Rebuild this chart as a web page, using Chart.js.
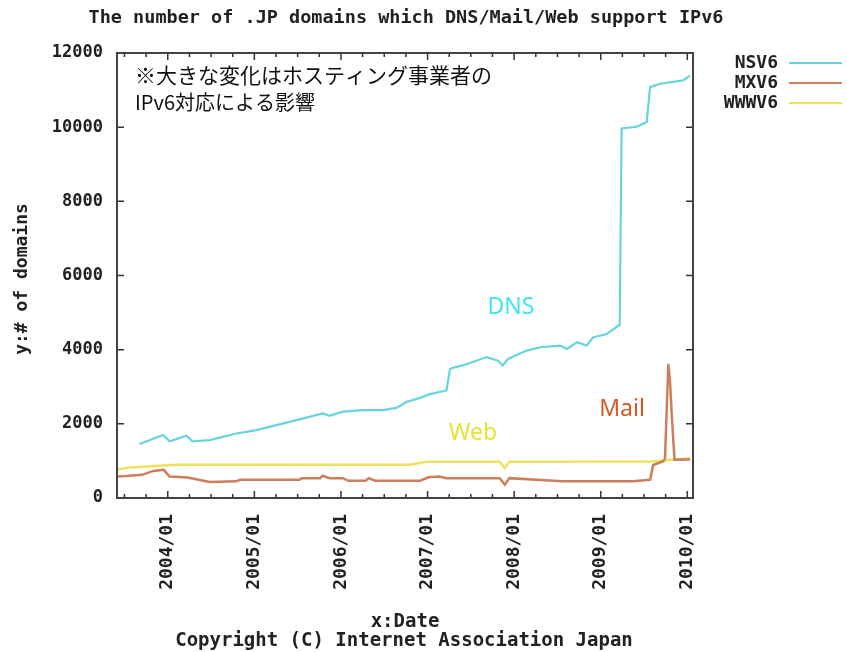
<!DOCTYPE html>
<html>
<head>
<meta charset="utf-8">
<script src="https://cdn.jsdelivr.net/npm/chart.js@4.4.0/dist/chart.umd.min.js"></script>
<style>
  html, body { margin: 0; padding: 0; background: #fff; }
  #wrap { width: 847px; height: 652px; }
</style>
</head>
<body>
<div id="wrap"><canvas id="chart" width="847" height="652"></canvas></div>
<script>
// Series data (dates are sample points, values = number of domains)
const seriesLabels = ['NSV6', 'MXV6', 'WWWV6'];

const dnsDates = ['2003-09-04', '2003-12-12', '2004-01-09', '2004-03-20', '2004-04-15', '2004-06-26',
  '2004-10-17', '2005-01-10', '2005-04-04', '2005-06-28', '2005-10-16', '2005-11-14', '2006-01-09',
  '2006-04-03', '2006-06-26', '2006-08-23', '2006-10-04', '2006-12-01', '2007-01-11', '2007-03-22',
  '2007-04-05', '2007-04-12', '2007-05-30', '2007-09-07', '2007-10-25', '2007-11-14', '2007-12-06',
  '2008-02-23', '2008-04-20', '2008-07-14', '2008-08-11', '2008-09-23', '2008-11-03', '2008-11-29',
  '2009-01-26', '2009-03-16', '2009-03-22', '2009-03-30', '2009-06-02', '2009-07-14', '2009-07-28',
  '2009-09-08', '2009-12-14', '2010-01-13'];
const dnsValues = [1455, 1700, 1530, 1680, 1530, 1560,
  1740, 1830, 1965, 2100, 2280, 2215, 2330,
  2370, 2370, 2430, 2590, 2700, 2800, 2900,
  3450, 3500, 3575, 3800, 3700, 3575, 3750,
  3975, 4065, 4110, 4020, 4200, 4110, 4330,
  4420, 4645, 4660, 9965, 10010, 10140, 11080,
  11170, 11260, 11390];

const mailDates = ['2003-06-01', '2003-07-10', '2003-09-15', '2003-11-01', '2003-12-15', '2004-01-09',
  '2004-03-25', '2004-06-26', '2004-10-17', '2004-11-01', '2005-07-10', '2005-07-20', '2005-10-05',
  '2005-10-16', '2005-11-14', '2006-01-09', '2006-02-01', '2006-04-15', '2006-04-28', '2006-05-25',
  '2006-12-01', '2007-01-05', '2007-02-20', '2007-03-22', '2007-11-01', '2007-11-23', '2007-12-12',
  '2008-07-26', '2009-05-18', '2009-07-28', '2009-08-10', '2009-09-22', '2009-09-29', '2009-10-13',
  '2009-10-20', '2009-10-27', '2009-11-08', '2010-01-13'];
const mailValues = [580, 590, 625, 730, 760, 580,
  555, 430, 450, 490, 490, 535, 535,
  600, 535, 535, 465, 465, 535, 465,
  465, 560, 580, 535, 535, 360, 535,
  450, 450, 490, 890, 990, 1070, 3620,
  3150, 2300, 1030, 1040];

const webDates = ['2003-06-01', '2003-07-23', '2004-02-06', '2006-10-18', '2006-12-28', '2007-11-01',
  '2007-11-23', '2007-12-12', '2009-08-01', '2010-01-13'];
const webValues = [760, 820, 895, 895, 980, 980, 805, 980, 985, 1070];

// axis range and ticks
const xStart = '2003-06-01';
const xEnd = '2010-01-25';
const yTicks = [0, 2000, 4000, 6000, 8000, 10000, 12000];

function toYear(d) {
  const t = new Date(d + 'T00:00:00Z');
  const y = t.getUTCFullYear();
  const a = Date.UTC(y, 0, 1), b = Date.UTC(y + 1, 0, 1);
  return y + (t - a) / (b - a);
}
function points(dates, values) {
  return dates.map((d, i) => ({ x: toYear(d), y: values[i] }));
}

const MONO = '"DejaVu Sans Mono", "Liberation Mono", monospace';
const colors = ['#66d4dc', '#cc7f5c', '#efe25a'];

// frame, inward ticks, title, legend and annotations
const decorations = {
  id: 'decorations',
  afterDraw(chart) {
    const ctx = chart.ctx;
    const a = chart.chartArea;
    const xs = chart.scales.x, ys = chart.scales.y;
    ctx.save();
    ctx.strokeStyle = '#333';
    ctx.lineWidth = 1.5;
    xs.ticks.forEach(t => {
      const px = xs.getPixelForValue(t.value);
      const len = Math.abs(t.value - Math.round(t.value)) < 1e-6 ? 7 : 4;
      ctx.beginPath();
      ctx.moveTo(px, a.bottom); ctx.lineTo(px, a.bottom - len);
      ctx.moveTo(px, a.top); ctx.lineTo(px, a.top + len);
      ctx.stroke();
    });
    ys.ticks.forEach(t => {
      const py = ys.getPixelForValue(t.value);
      ctx.beginPath();
      ctx.moveTo(a.left, py); ctx.lineTo(a.left + 7, py);
      ctx.moveTo(a.right, py); ctx.lineTo(a.right - 7, py);
      ctx.stroke();
    });
    ctx.lineWidth = 2;
    ctx.strokeStyle = '#444';
    ctx.strokeRect(a.left, a.top, a.right - a.left, a.bottom - a.top);

    // title
    ctx.fillStyle = '#222';
    ctx.textBaseline = 'middle';
    ctx.textAlign = 'center';
    ctx.font = 'bold 18.5px ' + MONO;
    ctx.fillText('The number of .JP domains which DNS/Mail/Web support IPv6', 406, 18);

    // axis titles
    ctx.font = 'bold 19px ' + MONO;
    ctx.fillText('x:Date', 405, 622);
    ctx.fillText('Copyright (C) Internet Association Japan', 404, 641);
    ctx.save();
    ctx.translate(22, 279);
    ctx.rotate(-Math.PI / 2);
    ctx.font = 'bold 18px ' + MONO;
    ctx.fillText('y:# of domains', 0, 0);
    ctx.restore();

    // legend
    ctx.textAlign = 'right';
    ctx.font = 'bold 18px ' + MONO;
    chart.data.datasets.forEach((ds, i) => {
      const y = 63 + i * 20;
      ctx.fillStyle = '#222';
      ctx.fillText(ds.label, 778, y);
      ctx.strokeStyle = ds.borderColor;
      ctx.lineWidth = 2;
      ctx.beginPath();
      ctx.moveTo(789, y); ctx.lineTo(842, y);
      ctx.stroke();
    });

    // note
    ctx.textAlign = 'left';
    ctx.fillStyle = '#111';
    ctx.font = '21px "Noto Sans CJK JP"';
    ctx.fillText('※大きな変化はホスティング事業者の', 135, 75);
    ctx.font = '20px "Noto Sans CJK JP"';
    ctx.fillText('IPv6対応による影響', 135, 102);

    // series names
    ctx.textAlign = 'center';
    ctx.font = '23px "Noto Sans"';
    ctx.fillStyle = '#3fe6ee';
    ctx.fillText('DNS', 511, 307);
    ctx.fillStyle = '#ebe036';
    ctx.fillText('Web', 473, 433);
    ctx.fillStyle = '#d55a22';
    ctx.fillText('Mail', 622, 409);
    ctx.restore();
  }
};

new Chart(document.getElementById('chart'), {
  type: 'line',
  data: {
    datasets: [
      { label: seriesLabels[0], data: points(dnsDates, dnsValues), borderColor: colors[0], borderWidth: 2.2 },
      { label: seriesLabels[1], data: points(mailDates, mailValues), borderColor: colors[1], borderWidth: 2.5 },
      { label: seriesLabels[2], data: points(webDates, webValues), borderColor: colors[2], borderWidth: 2.5 }
    ]
  },
  options: {
    responsive: false,
    animation: false,
    events: [],
    elements: { point: { radius: 0 }, line: { tension: 0 } },
    layout: { padding: { top: 53, right: 154, left: 0, bottom: 0 } },
    plugins: { legend: { display: false }, title: { display: false }, tooltip: { enabled: false } },
    scales: {
      x: {
        type: 'linear',
        min: toYear(xStart),
        max: toYear(xEnd),
        afterFit: s => { s.height = 154; },
        grid: { display: false, drawTicks: false },
        border: { display: false },
        ticks: {
          stepSize: 0.25,
          includeBounds: false,
          autoSkip: false,
          minRotation: 90,
          maxRotation: 90,
          padding: 16,
          color: '#222',
          font: { family: MONO, size: 18, weight: 'bold' },
          callback: v => Math.abs(v - Math.round(v)) < 1e-6 ? Math.round(v) + '/01' : ''
        }
      },
      y: {
        min: yTicks[0],
        max: yTicks[yTicks.length - 1],
        afterFit: s => { s.width = 117; },
        afterBuildTicks: s => { s.ticks = yTicks.map(v => ({ value: v })); },
        grid: { display: false, drawTicks: false },
        border: { display: false },
        ticks: {
          padding: 14,
          color: '#222',
          font: { family: MONO, size: 17, weight: 'bold' },
          callback: v => String(v)
        }
      }
    }
  },
  plugins: [decorations]
});
</script>
</body>
</html>
